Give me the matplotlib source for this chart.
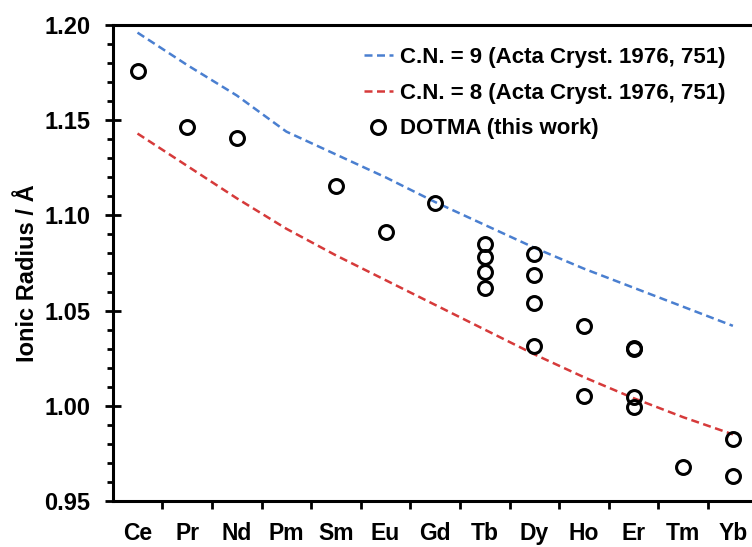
import matplotlib
matplotlib.use("Agg")
import matplotlib.pyplot as plt
from matplotlib.ticker import MultipleLocator, FixedLocator

plt.rcParams['font.family'] = ['Liberation Sans', 'DejaVu Sans']
plt.rcParams['font.weight'] = 'bold'

elements = ['Ce', 'Pr', 'Nd', 'Pm', 'Sm', 'Eu', 'Gd', 'Tb', 'Dy', 'Ho', 'Er', 'Tm', 'Yb']
cn9 = [1.196, 1.179, 1.163, 1.144, 1.132, 1.120, 1.107, 1.095, 1.083, 1.072, 1.062, 1.052, 1.042]
cn8 = [1.143, 1.126, 1.109, 1.093, 1.079, 1.066, 1.053, 1.040, 1.027, 1.015, 1.004, 0.994, 0.985]

dotma_elem = ['Ce', 'Pr', 'Nd', 'Sm', 'Eu', 'Gd',
              'Tb', 'Tb', 'Tb', 'Tb',
              'Dy', 'Dy', 'Dy', 'Dy',
              'Ho', 'Ho',
              'Er', 'Er', 'Er', 'Er',
              'Tm', 'Yb', 'Yb']
dotma_val = [1.176, 1.1465, 1.1405, 1.1153, 1.0915, 1.1067,
             1.0851, 1.0781, 1.0702, 1.0617,
             1.0795, 1.0688, 1.0541, 1.0312,
             1.0421, 1.0053,
             1.0302, 1.0296, 1.0047, 0.9993,
             0.9679, 0.9825, 0.9632]

legend_labels = ['C.N. = 9 (Acta Cryst. 1976, 751)',
                 'C.N. = 8 (Acta Cryst. 1976, 751)',
                 'DOTMA (this work)']

W, H = 752, 547
fig = plt.figure(figsize=(W / 100, H / 100), dpi=100)
ax = fig.add_axes([112.7 / W, 1 - 501 / H, (757.7 - 112.7) / W, (501 - 25) / H])

xs = list(range(len(elements)))
idx = {e: i for i, e in enumerate(elements)}
dx = [idx[e] for e in dotma_elem]

l9, = ax.plot(xs, cn9, color='#4a7fd0', lw=1.8, dashes=(3.2, 1.8), label=legend_labels[0])
l8, = ax.plot(xs, cn8, color='#d63a3a', lw=1.8, dashes=(3.2, 1.8), label=legend_labels[1])
pts, = ax.plot(dx, dotma_val, ls='none', marker='o', ms=10, mfc='none', mec='black',
               mew=2.2, label=legend_labels[2])

ax.set_xlim(-0.5, len(elements) - 0.5)
ax.set_ylim(0.95, 1.20)

ax.set_xticks(xs)
ax.set_xticklabels(elements, fontsize=16.5, fontweight='bold')
ax.xaxis.set_minor_locator(FixedLocator([i + 0.5 for i in range(len(elements))]))
ax.tick_params(axis='x', which='major', length=0, pad=15)
ax.tick_params(axis='x', which='minor', direction='out', length=5.5, width=2)

ax.yaxis.set_major_locator(MultipleLocator(0.05))
ax.yaxis.set_minor_locator(MultipleLocator(0.01))
ax.yaxis.set_major_formatter(matplotlib.ticker.FormatStrFormatter('%.2f'))
ax.tick_params(axis='y', which='major', direction='inout', length=12, width=2, labelsize=17, pad=10)
ax.tick_params(axis='y', which='minor', direction='out', length=4.5, width=2)
for lab in ax.get_yticklabels():
    lab.set_fontweight('bold')

for s in ['top', 'bottom', 'left', 'right']:
    ax.spines[s].set_linewidth(2.2)

ax.set_ylabel('Ionic Radius / Å', fontsize=17, fontweight='bold')
ax.yaxis.set_label_coords(39 / W, 0.5, transform=fig.transFigure)

leg = fig.legend(handles=[l9, l8, pts], loc='upper left',
                 bbox_to_anchor=(364 / W, 1 - 47 / H), bbox_transform=fig.transFigure,
                 frameon=False, borderpad=0, borderaxespad=0,
                 handlelength=1.3, handletextpad=0.3, labelspacing=0.66,
                 prop={'size': 16, 'weight': 'bold'})

fig.savefig('out.png', dpi=100)
